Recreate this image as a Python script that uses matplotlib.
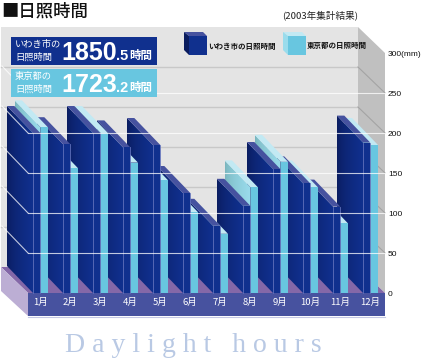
import matplotlib
matplotlib.use("Agg")
import matplotlib.pyplot as plt
import numpy as np
from matplotlib.patches import Polygon

plt.rcParams['font.family'] = ['Noto Sans CJK JP', 'DejaVu Sans']

# values (hours)
months = ["1月", "2月", "3月", "4月", "5月", "6月", "7月", "8月", "9月", "10月", "11月", "12月"]
iwaki = [200, 186, 200, 182, 185, 125, 84, 109, 155, 137, 108, 188]
tokyo = [207, 156, 200, 163, 141, 101, 74, 132, 164, 132, 87, 185]
y_ticks = [0, 50, 100, 150, 200, 250, 300]
y_tick_labels = ["0", "50", "100", "150", "200", "250", "300(mm)"]
iwaki_total = ("1850", ".5", "時間")
tokyo_total = ("1723", ".2", "時間")

W, H = 421, 361
PX_PER_MM = 0.8
PX_PER_MONTH = 30.0
Y0 = 293          # px of value 0 on the front plane
X0 = 33           # px of the first navy front face
DEPTH_X = -26 / PX_PER_MONTH
DEPTH_Y = 27 / PX_PER_MM
NAVY_W = 7.3 / PX_PER_MONTH
BLUE_X = 7.6 / PX_PER_MONTH
BLUE_W = 7.4 / PX_PER_MONTH

NAVY = "#10308e"
NAVY_DARK = "#0a1c5e"
NAVY_TOP = "#46529f"
BLUE = "#68c6e0"
BLUE_TOP = "#c2e9f3"
BLUE_SIDE_BACK = "#78b4bc"
BLUE_SIDE_FRONT = "#9adcec"

fig = plt.figure(figsize=(W / 100, H / 100), dpi=100, facecolor="white")

# background axes in pixels: walls, floor, legend, captions
bg = fig.add_axes([0, 0, 1, 1], zorder=0)
bg.set_xlim(0, W)
bg.set_ylim(H, 0)
bg.axis("off")

bg.fill([1, 358, 358, 1], [27, 27, 267, 267], color="#e4e4e4", lw=0)
bg.fill([358, 385, 385, 358], [27, 53, 293, 267], color="#c0c0c0", lw=0)
bg.fill([1, 358, 385, 28], [267, 267, 293, 293], color="#8468a8", lw=0)
bg.fill([1, 28, 28, 1], [267, 293, 316, 291], color="#bcaed4", lw=0)
bg.fill([28, 385, 385, 28], [293, 293, 316, 316], color="#47529f", lw=0)
bg.plot([28, 385], [316.5, 316.5], color="#c4c8e4", lw=0.8)

for v in y_ticks[1:-1]:
    y = Y0 - v * PX_PER_MM - 26
    bg.plot([1, 358], [y, y], color="#c8c8c8", lw=1.0)
    bg.plot([358, 385], [y, y + 26], color="#a4a4a4", lw=0.8)

# title and note
bg.text(1, 12, "■日照時間", fontsize=12.5, va="center", ha="left", color="#111111", weight="medium")
bg.text(320, 15.5, "(2003年集計結果)", fontsize=6.9, va="center", ha="center", color="#222222")


def cube(x, front, top, side):
    bg.fill([x - 5, x + 14, x + 18, x], [32, 32, 36, 36], color=top, lw=0)
    bg.fill([x - 5, x, x, x - 5], [32, 36, 55, 50], color=side, lw=0)
    bg.fill([x, x + 18, x + 18, x], [36, 36, 55, 55], color=front, lw=0)


cube(189, NAVY, NAVY_TOP, NAVY_DARK)
cube(288, BLUE, BLUE_TOP, BLUE_SIDE_FRONT)
bg.text(208, 46, "いわき市の日照時間", fontsize=5.4, va="center", ha="left", color="#111111", weight="bold")
bg.text(307, 45, "東京都の日照時間", fontsize=5.4, va="center", ha="left", color="#111111", weight="bold")

bg.text(193, 345.5, "D a y l i g h t   h o u r s", fontsize=20, color="#b9c9e4",
        family="Liberation Serif", ha="center", va="center")

# chart axes: x in months, y in hours, lined up with the pixel axes
ax = fig.add_axes([0, 0, 1, 1], zorder=1)
ax.patch.set_alpha(0)
xlim = (-X0 / PX_PER_MONTH, (W - X0) / PX_PER_MONTH)
ylim = (-(H - Y0) / PX_PER_MM, Y0 / PX_PER_MM)
ax.axis("off")

z = [1]


def next_z():
    z[0] += 1
    return z[0]


def bar3d(x, w, v, front, top, side_back, side_front):
    # side face: gradient image clipped to the parallelogram
    a = np.array(matplotlib.colors.to_rgb(side_back))
    b = np.array(matplotlib.colors.to_rgb(side_front))
    t = np.linspace(0, 1, 48)[None, :, None] ** 0.6
    grad = a + (b - a) * t
    im = ax.imshow(grad, extent=(x + DEPTH_X, x, 0, v + DEPTH_Y), aspect="auto",
                   interpolation="bilinear", zorder=next_z())
    im.set_clip_path(Polygon([(x + DEPTH_X, DEPTH_Y), (x, 0), (x, v), (x + DEPTH_X, v + DEPTH_Y)],
                             transform=ax.transData))
    ax.fill([x + DEPTH_X, x + DEPTH_X + w, x + w, x],
            [v + DEPTH_Y, v + DEPTH_Y, v, v], color=top, lw=0, zorder=next_z())
    ax.fill([x, x + w, x + w, x], [0, 0, v, v], color=front, lw=0, zorder=next_z())


# right to left so nearer faces cover the ones behind
for i in range(len(months) - 1, -1, -1):
    bar3d(i + BLUE_X, BLUE_W, tokyo[i], BLUE, BLUE_TOP, BLUE_SIDE_BACK, BLUE_SIDE_FRONT)
    bar3d(i, NAVY_W, iwaki[i], NAVY, NAVY_TOP, NAVY_DARK, NAVY)
    zl = next_z()
    ax.plot([i, i], [0, iwaki[i]], color="#5f70bb", lw=0.6, zorder=zl)
    ax.plot([i + NAVY_W, i + NAVY_W], [0, iwaki[i]], color="#5f70bb", lw=0.6, zorder=zl)
    ax.text(i + NAVY_W, -12, months[i], fontsize=6.8, color="white", ha="center", va="center", zorder=zl)

# white grid lines run over the bars
x_left = -5 / PX_PER_MONTH
x_right = (385 - X0) / PX_PER_MONTH
zl = next_z()
for v, lab in zip(y_ticks, y_tick_labels):
    if 0 < v < 300:
        ax.plot([x_left, x_right], [v, v], color="white", lw=0.8, alpha=0.75, zorder=zl)
        ax.plot([x_left + DEPTH_X, x_left], [v + DEPTH_Y, v], color="white", lw=0.8, alpha=0.75, zorder=zl)
    ax.text((388 - X0) / PX_PER_MONTH, v - 1.5, lab, fontsize=6, color="#111111", ha="left", va="center",
            family="Liberation Sans", zorder=zl)

ax.set_xlim(*xlim)
ax.set_ylim(*ylim)

# total boxes sit on top of the grid lines
over = fig.add_axes([0, 0, 1, 1], zorder=2)
over.patch.set_alpha(0)
over.set_xlim(0, W)
over.set_ylim(H, 0)
over.axis("off")


def info_box(y, color, name, total):
    over.fill([11, 157, 157, 11], [y, y, y + 28, y + 28], color=color, lw=0)
    over.text(15, y + 7.5, name[0], fontsize=6.7, color="white", va="center", ha="left")
    over.text(15, y + 20, name[1], fontsize=6.7, color="white", va="center", ha="left")
    over.text(61, y + 16.5, total[0], fontsize=18, color="white", va="center", ha="left",
              family="Liberation Sans", weight="bold")
    over.text(116, y + 19.5, total[1], fontsize=10.5, color="white", va="center", ha="left",
              family="Liberation Sans", weight="bold")
    over.text(129.5, y + 18.5, total[2], fontsize=8.3, color="white", va="center", ha="left", weight="bold")


info_box(37, NAVY, ("いわき市の", "日照時間"), iwaki_total)
info_box(69, BLUE, ("東京都の", "日照時間"), tokyo_total)

fig.savefig("out.png", dpi=100)
